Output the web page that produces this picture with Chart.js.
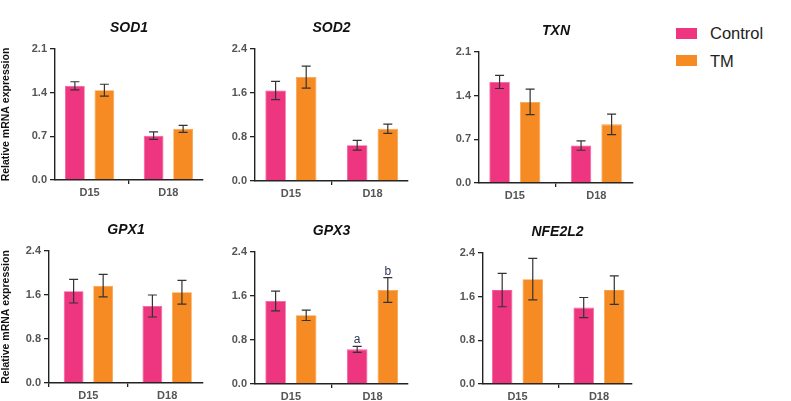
<!DOCTYPE html>
<html><head><meta charset="utf-8">
<script src="https://cdn.jsdelivr.net/npm/chart.js@4.4.1/dist/chart.umd.min.js"></script>
<style>
html,body{margin:0;padding:0;background:#fff;width:791px;height:401px;overflow:hidden;position:relative;font-family:"Liberation Sans",Arial,sans-serif}
canvas{position:absolute}
.sw{position:absolute;width:21px;height:11px}
.lt{position:absolute;font-size:16.5px;color:#222;line-height:20px}
</style></head><body>
<div class="sw" style="left:676px;top:28px;background:#EE3580"></div>
<div class="lt" style="left:710px;top:23px">Control</div>
<div class="sw" style="left:676px;top:55px;background:#F58B22"></div>
<div class="lt" style="left:710px;top:51px">TM</div>
<script>
// ---- data ----
const categories = ['D15', 'D18'];
const seriesNames = ['Control', 'TM'];
const genes = ['SOD1', 'SOD2', 'TXN', 'GPX1', 'GPX3', 'NFE2L2'];
const controlMean = [[1.51, 0.71], [1.645, 0.65], [1.62, 0.60], [1.67, 1.40], [1.51, 0.63], [1.72, 1.40]];
const controlErr  = [[0.065, 0.06], [0.165, 0.09], [0.105, 0.075], [0.215, 0.20], [0.18, 0.055], [0.305, 0.185]];
const tmMean      = [[1.44, 0.82], [1.89, 0.95], [1.30, 0.94], [1.77, 1.65], [1.25, 1.71], [1.92, 1.72]];
const tmErr       = [[0.095, 0.055], [0.20, 0.085], [0.205, 0.165], [0.205, 0.215], [0.095, 0.225], [0.38, 0.26]];
const controlLetters = [['', ''], ['', ''], ['', ''], ['', ''], ['', 'a'], ['', '']];
const tmLetters      = [['', ''], ['', ''], ['', ''], ['', ''], ['', 'b'], ['', '']];
const yMaxTicks = [2.1, 2.4, 2.1, 2.4, 2.4, 2.4];
const yStepTicks = [0.7, 0.8, 0.7, 0.8, 0.8, 0.8];
const yAxisTitle = 'Relative mRNA expression';

// ---- layout (positions only) ----
const panelLayout = [
  {left: 0,   top: 0,   axisX: 55,  plotTop: 49,  plotBottom: 180, plotRight: 203, xMin: -0.44, xMax: 1.44,  yTitle: true},
  {left: 220, top: 0,   axisX: 255, plotTop: 49,  plotBottom: 181, plotRight: 408, xMin: -0.44, xMax: 1.435, yTitle: false},
  {left: 444, top: 0,   axisX: 479, plotTop: 52,  plotBottom: 183, plotRight: 633, xMin: -0.44, xMax: 1.45,  yTitle: false},
  {left: 0,   top: 200, axisX: 49,  plotTop: 251, plotBottom: 383, plotRight: 203, xMin: -0.5,  xMax: 1.455, yTitle: true},
  {left: 220, top: 200, axisX: 255, plotTop: 252, plotBottom: 384, plotRight: 408, xMin: -0.44, xMax: 1.435, yTitle: false},
  {left: 448, top: 200, axisX: 483, plotTop: 253, plotBottom: 384, plotRight: 632, xMin: -0.423,xMax: 1.405, yTitle: false}
];
const titleGap = 29.4;   // distance from title box top to plot top
const titleFontSize = 14;

const colors = ['#EE3580', '#F58B22'];
const edgeColors = ['#F35A99', '#F8A04A'];
const axisColor = '#222';
const tickColor = '#555';

const errorBarPlugin = {
  id: 'errorBars',
  afterDatasetsDraw(chart) {
    const ctx = chart.ctx;
    const yScale = chart.scales.y;
    chart.data.datasets.forEach((ds, di) => {
      const meta = chart.getDatasetMeta(di);
      meta.data.forEach((bar, i) => {
        const v = ds.data[i].y, e = ds.errors[i];
        const x = bar.x;
        const yt = yScale.getPixelForValue(v + e);
        const yb = yScale.getPixelForValue(v - e);
        const cap = 4.5;
        ctx.save();
        ctx.strokeStyle = '#333';
        ctx.lineWidth = 1.2;
        ctx.beginPath();
        ctx.moveTo(x, yt); ctx.lineTo(x, yb);
        ctx.moveTo(x - cap, yt); ctx.lineTo(x + cap, yt);
        ctx.moveTo(x - cap, yb); ctx.lineTo(x + cap, yb);
        ctx.stroke();
        const L = ds.letters[i];
        if (L) {
          ctx.fillStyle = '#2d3554';
          ctx.font = '12px "Liberation Sans", Arial, sans-serif';
          ctx.textAlign = 'center';
          ctx.textBaseline = 'alphabetic';
          ctx.fillText(L, x, yt - 3);
        }
        ctx.restore();
      });
    });
  }
};

genes.forEach((gene, p) => {
  const L = panelLayout[p];
  const canvasW = L.plotRight + 7 - L.left;
  const canvasH = L.plotBottom + 20 - L.top;
  const cv = document.createElement('canvas');
  cv.width = canvasW; cv.height = canvasH;
  cv.style.left = L.left + 'px'; cv.style.top = L.top + 'px';
  cv.style.width = canvasW + 'px'; cv.style.height = canvasH + 'px';
  document.body.appendChild(cv);

  const means = [controlMean[p], tmMean[p]];
  const errs = [controlErr[p], tmErr[p]];
  const letters = [controlLetters[p], tmLetters[p]];
  const titleH = titleFontSize * 1.2;

  new Chart(cv, {
    type: 'bar',
    data: {
      datasets: seriesNames.map((name, s) => ({
        label: name,
        data: categories.map((c, i) => ({x: i, y: means[s][i]})),
        errors: errs[s],
        letters: letters[s],
        backgroundColor: colors[s],
        borderColor: edgeColors[s],
        borderWidth: 0.8,
        barPercentage: 0.67,
        categoryPercentage: 0.75
      }))
    },
    options: {
      responsive: false,
      animation: false,
      devicePixelRatio: 1,
      layout: {padding: {top: L.plotTop - L.top - titleGap, right: 7, left: 0, bottom: 0}},
      plugins: {
        legend: {display: false},
        tooltip: {enabled: false},
        title: {
          display: true,
          fullSize: false,
          text: gene,
          color: '#111',
          font: {family: '"Liberation Sans", Arial, sans-serif', size: titleFontSize, weight: 'bold', style: 'italic'},
          padding: {top: 0, bottom: titleGap - titleH}
        }
      },
      scales: {
        x: {
          type: 'linear',
          min: L.xMin, max: L.xMax,
          offset: false,
          afterBuildTicks: s => { s.ticks = categories.map((c, i) => ({value: i})); },
          afterFit: s => { s.height = 20; },
          grid: {display: true, drawOnChartArea: false, drawTicks: true, tickLength: 4, color: axisColor, lineWidth: 1.3},
          border: {display: true, color: axisColor, width: 1.4},
          ticks: {
            autoSkip: false, maxRotation: 0, padding: 2, color: tickColor,
            font: {family: '"Liberation Sans", Arial, sans-serif', size: 11, weight: 'bold'},
            callback: v => categories[v]
          }
        },
        y: {
          min: 0, max: yMaxTicks[p],
          afterFit: s => { s.width = L.axisX - L.left; },
          grid: {display: true, drawOnChartArea: false, drawTicks: true, tickLength: 5, color: axisColor, lineWidth: 1.3},
          border: {display: true, color: axisColor, width: 1.4},
          ticks: {
            stepSize: yStepTicks[p], padding: 3, color: tickColor,
            font: {family: '"Liberation Sans", Arial, sans-serif', size: 11, weight: 'bold'},
            callback: v => Number(v).toFixed(1)
          },
          title: {
            display: L.yTitle, text: yAxisTitle, color: '#111', padding: 0,
            font: {family: '"Liberation Sans", Arial, sans-serif', size: 10.5, weight: 'bold'}
          }
        }
      }
    },
    plugins: [errorBarPlugin]
  });
});
</script>
</body></html>
